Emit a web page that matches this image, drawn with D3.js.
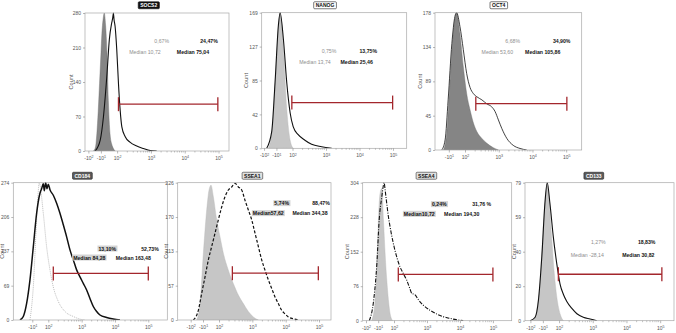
<!DOCTYPE html>
<html>
<head>
<title>Flow cytometry histograms</title>
<style>
  body { margin: 0; background: #fff; }
  text { font-family: "Liberation Sans", Arial, sans-serif; }
  .tick text { font-size: 5px; fill: #555; }
  .tick line { stroke: #888; stroke-width: 0.6; }
</style>
</head>
<body>
<script src="https://cdnjs.cloudflare.com/ajax/libs/d3/7.8.5/d3.min.js"></script>
<script>
// ---- data ----
var markers = ["SOCS2", "NANOG", "OCT4", "CD184", "SSEA1", "SSEA4", "CD133"];
var countMax = [280, 169, 178, 274, 226, 304, 79];
var isoPercent = ["0,67%", "0,75%", "6,68%", "13,10%", "5,74%", "0,24%", "1,27%"];
var isoMedian = ["Median 10,72", "Median 13,74", "Median 53,60", "Median 84,28", "Median57,62", "Median10,72", "Median -28,14"];
var stainPercent = ["24,47%", "13,75%", "34,90%", "52,73%", "88,47%", "31,76 %", "18,83%"];
var stainMedian = ["Median 75,04", "Median 25,46", "Median 105,86", "Median 163,48", "Median 344,38", "Median 194,30", "Median 30,82"];

// gate: start / end on the biexponential display (decades), bar level in counts
var gateRange = [[2.04, 4.98], [1.98, 4.99], [2.32, 5.02], [2.15, 5.0], [2.4, 4.98], [2.13, 5.0], [1.98, 5.05]];
var gateLevel = [95, 57, 60, 93, 77, 102, 26.6];

var tickValues = [-100, -10, 100, 1000, 10000, 100000];
var tickLabels = ["-10^2", "-10^1", "10^2", "10^3", "10^4", "10^5"];

// histograms: [display position (decades), count]
var socs2Iso = [[1.30,0],[1.36,8],[1.40,35],[1.44,80],[1.48,137],[1.52,195],[1.55,239],[1.59,270],[1.62,280],[1.66,255],[1.70,200],[1.74,103],[1.79,35],[1.84,14],[1.87,8],[1.94,0]];
var socs2Stain = [[1.35,0],[1.50,22],[1.595,69],[1.695,151],[1.77,226],[1.84,260],[1.87,270],[1.89,280],[1.91,266],[1.94,253],[1.99,205],[2.04,137],[2.09,83],[2.14,49],[2.24,29],[2.38,18],[2.58,10],[2.78,5],[2.98,1],[3.17,0]];
var nanogIso = [[1.28,0],[1.38,19],[1.48,81],[1.58,151],[1.63,169],[1.73,122],[1.83,48],[1.93,10],[2.02,0]];
var nanogStain = [[1.23,0],[1.38,21],[1.48,83],[1.58,154],[1.63,169],[1.73,135],[1.83,81],[1.93,44],[2.02,27],[2.17,17],[2.37,10],[2.57,5],[2.87,2],[3.17,0]];
var oct4Iso = [[1.36,0],[1.46,22],[1.55,86],[1.65,151],[1.75,177],[1.85,151],[1.95,108],[2.05,73],[2.15,52],[2.25,35],[2.35,24],[2.50,15],[2.64,9],[2.84,3],[2.99,0]];
var oct4Stain = [[1.31,0],[1.41,13],[1.50,65],[1.61,138],[1.70,173],[1.75,178],[1.85,160],[1.95,130],[2.05,99],[2.15,81],[2.25,73],[2.35,69],[2.50,65],[2.64,60],[2.79,56],[2.89,50],[2.99,39],[3.09,28],[3.24,15],[3.43,6],[3.63,2],[3.83,0]];
var cd184Iso = [[1.45,0],[1.55,66],[1.65,200],[1.73,273],[1.85,213],[1.95,146],[2.05,100],[2.15,66],[2.30,37],[2.50,17],[2.75,7],[3.00,1],[3.10,0]];
var cd184Stain = [[1.15,0],[1.25,7],[1.35,33],[1.45,80],[1.55,146],[1.65,213],[1.75,253],[1.80,262],[1.85,272],[1.88,258],[1.92,274],[1.96,262],[2.00,271],[2.05,260],[2.15,249],[2.25,233],[2.35,213],[2.45,190],[2.55,166],[2.65,140],[2.75,120],[2.85,100],[2.95,86],[3.05,73],[3.15,60],[3.25,43],[3.35,27],[3.45,17],[3.55,10],[3.75,5],[3.95,2],[4.15,0]];
var ssea1Iso = [[1.33,0],[1.43,27],[1.53,110],[1.63,181],[1.70,214],[1.76,222],[1.83,203],[1.93,165],[2.03,137],[2.13,110],[2.28,82],[2.43,60],[2.58,41],[2.73,27],[2.88,14],[3.03,5],[3.18,0]];
var ssea1Stain = [[1.23,0],[1.38,16],[1.48,44],[1.58,71],[1.68,99],[1.78,121],[1.88,143],[1.98,165],[2.08,186],[2.18,203],[2.28,214],[2.38,219],[2.48,225],[2.58,219],[2.68,214],[2.78,197],[2.88,181],[2.98,165],[3.08,143],[3.18,121],[3.28,99],[3.38,82],[3.48,66],[3.58,52],[3.68,38],[3.78,27],[3.88,16],[3.98,10],[4.08,5],[4.23,2],[4.38,0]];
var ssea4Iso = [[1.32,0],[1.42,38],[1.49,148],[1.55,258],[1.60,288],[1.63,291],[1.68,222],[1.73,148],[1.78,90],[1.83,46],[1.88,16],[1.96,0]];
var ssea4Stain = [[1.25,0],[1.37,38],[1.48,126],[1.55,222],[1.63,273],[1.68,299],[1.70,304],[1.73,288],[1.78,258],[1.83,229],[1.88,207],[1.98,170],[2.08,141],[2.18,119],[2.28,104],[2.38,90],[2.48,71],[2.54,60],[2.58,59],[2.64,57],[2.74,46],[2.89,34],[3.09,23],[3.29,15],[3.49,9],[3.70,5],[3.90,2],[4.10,0]];
var cd133Iso = [[1.24,0],[1.34,6],[1.44,23],[1.53,52],[1.61,75],[1.65,79],[1.71,67],[1.78,48],[1.85,29],[1.93,14],[2.03,4],[2.13,0]];
var cd133Stain = [[1.14,0],[1.29,2],[1.39,12],[1.49,37],[1.58,67],[1.65,79],[1.73,67],[1.83,48],[1.93,33],[2.03,21],[2.13,15],[2.23,11],[2.38,7],[2.53,4],[2.72,2],[2.92,1],[3.12,0]];

var isoCurves = [socs2Iso, nanogIso, oct4Iso, cd184Iso, ssea1Iso, ssea4Iso, cd133Iso];
var stainCurves = [socs2Stain, nanogStain, oct4Stain, cd184Stain, ssea1Stain, ssea4Stain, cd133Stain];

// ---- layout ----
var layout = [
  {box: [85, 13, 229, 151],      dom: [1.05, 5.31], titleX: 148.7, countDx: 12, pct: [161.7, 209, 41],   med: [145, 193, 52],    iso: "dark",   title: "black"},
  {box: [261.7, 12.7, 406.7, 148.3], dom: [1.08, 5.41], titleX: 325, countDx: 14, pct: [329, 368.3, 51],   med: [315, 356.7, 61.7], iso: "light",  title: "white"},
  {box: [435, 12.7, 581.7, 150],  dom: [1.11, 5.46], titleX: 498.7, countDx: 13, pct: [512.7, 561.7, 41], med: [497.3, 542.7, 51.7], iso: "dark", title: "white"},
  {box: [13.3, 182.7, 167.3, 320], dom: [0.95, 5.57], titleX: 82.3, countDx: 9.5, pct: [107.3, 150, 248.7], med: [89.3, 133.3, 257.7], iso: "dotted", title: "grey", boxed: true, minTick: -10},
  {box: [177.7, 182.7, 331, 320], dom: [0.76, 5.36], titleX: 252.3, countDx: 10, pct: [281.7, 321, 203.3], med: [268.3, 310, 213.3], iso: "light", title: "light", boxed: true},
  {box: [362.7, 182.7, 511.7, 320.7], dom: [1.05, 5.57], titleX: 426.3, countDx: 14, pct: [439.3, 481.7, 204.3], med: [419.3, 461.7, 214], iso: "light", title: "light", boxed: true},
  {box: [525, 182.7, 674, 320.7], dom: [0.99, 5.41], titleX: 593.7, countDx: 9, pct: [598.3, 646.7, 242], med: [587.3, 638.3, 255], iso: "light", title: "grey"}
];
var stainDash = [null, null, null, null, "3,1.8", "4,1.4,1,1.4", null];
var stainWidth = [1.1, 1.1, 0.8, 1.5, 1.2, 1.1, 1.1];

// biexponential-like display: log above 100, compressed linear around zero
var lowPart = d3.scaleLinear().domain([-100, -10, 100]).range([1.15, 1.52, 2]);
function biex(v) { return v >= 100 ? Math.log10(v) : lowPart(v); }

var svg = d3.select("body").append("svg")
  .attr("width", 676)
  .attr("height", 333);

markers.forEach(function(name, i) {
  var L = layout[i], b = L.box;
  var x = d3.scaleLinear().domain(L.dom).range([b[0], b[2]]);
  var y = d3.scaleLinear().domain([0, countMax[i]]).range([b[3], b[1]]);
  var g = svg.append("g");

  g.append("clipPath").attr("id", "clip" + i)
    .append("rect").attr("x", b[0]).attr("y", b[1] - 1).attr("width", b[2] - b[0]).attr("height", b[3] - b[1] + 1);
  var plot = g.append("g").attr("clip-path", "url(#clip" + i + ")");

  var area = d3.area().curve(d3.curveMonotoneX)
    .x(function(d) { return x(d[0]); })
    .y0(y(0))
    .y1(function(d) { return y(d[1]); });
  var line = d3.line().curve(d3.curveMonotoneX)
    .x(function(d) { return x(d[0]); })
    .y(function(d) { return y(d[1]); });

  if (L.iso === "dotted") {
    plot.append("path").attr("d", line(isoCurves[i]))
      .attr("fill", "none").attr("stroke", "#b5b5b5").attr("stroke-width", 0.9).attr("stroke-dasharray", "1,1");
  } else {
    plot.append("path").attr("d", area(isoCurves[i]))
      .attr("fill", L.iso === "dark" ? "#858585" : "#c6c6c6")
      .attr("stroke", L.iso === "dark" ? "#6a6a6a" : "#b8b8b8").attr("stroke-width", 0.4);
  }
  plot.append("path").attr("d", line(stainCurves[i]))
    .attr("fill", "none").attr("stroke", "#111")
    .attr("stroke-width", stainWidth[i])
    .attr("stroke-dasharray", stainDash[i]);

  // frame
  g.append("rect").attr("x", b[0]).attr("y", b[1]).attr("width", b[2] - b[0]).attr("height", b[3] - b[1])
    .attr("fill", "none").attr("stroke", "#a8a8a8").attr("stroke-width", 0.7);

  // axes
  var yAxis = d3.axisLeft(y)
    .tickValues(d3.range(5).map(function(k) { return countMax[i] * k / 4; }))
    .tickFormat(function(d) { return Math.round(d); })
    .tickSize(2).tickPadding(2);
  g.append("g").attr("transform", "translate(" + b[0] + ",0)").call(yAxis)
    .call(function(s) { s.select(".domain").remove(); });

  var ticks = tickValues.filter(function(v) {
    return biex(v) > L.dom[0] + 0.05 && (L.minTick === undefined || v >= L.minTick);
  });
  var xAxis = d3.axisBottom(x)
    .tickValues(ticks.map(biex))
    .tickFormat(function(d, j) { return tickLabels[tickValues.indexOf(ticks[j])]; })
    .tickSize(2.5).tickPadding(3);
  g.append("g").attr("transform", "translate(0," + b[3] + ")").call(xAxis)
    .call(function(s) {
      s.select(".domain").remove();
      s.selectAll(".tick text").each(function() {
        var parts = d3.select(this).text().split("^");
        var t = d3.select(this).text(parts[0]);
        t.append("tspan").attr("dy", "-0.45em").style("font-size", "3.6px").text(parts[1]);
      });
    });

  var minor = [];
  [100, 1000, 10000].forEach(function(p) { for (var k = 2; k < 10; k++) minor.push(k * p); });
  g.selectAll(".minor").data(minor).enter().append("line")
    .attr("x1", function(d) { return x(biex(d)); })
    .attr("x2", function(d) { return x(biex(d)); })
    .attr("y1", b[3]).attr("y2", b[3] + 1.5)
    .attr("stroke", "#888").attr("stroke-width", 0.5);

  g.append("text")
    .attr("transform", "translate(" + (b[0] - L.countDx) + "," + ((b[1] + b[3]) / 2) + ") rotate(-90)")
    .attr("text-anchor", "middle")
    .style("font-size", "5.6px").style("fill", "#555")
    .text("Count");

  // gate
  var gy = y(gateLevel[i]), gx0 = x(gateRange[i][0]), gx1 = x(gateRange[i][1]);
  var gate = g.append("g").attr("stroke", "#a3262c").attr("stroke-width", 1.3);
  gate.append("line").attr("x1", gx0).attr("x2", gx1).attr("y1", gy).attr("y2", gy);
  [gx0, gx1].forEach(function(gx) {
    gate.append("line").attr("x1", gx).attr("x2", gx).attr("y1", gy - 7).attr("y2", gy + 7);
  });

  // statistics
  function stat(str, cx, cy, isIso) {
    var t = g.append("text").attr("x", cx).attr("y", cy)
      .attr("text-anchor", "middle").attr("dy", "0.35em")
      .style("font-size", "5.2px")
      .style("font-weight", (isIso && !L.boxed) ? "normal" : "bold")
      .style("fill", (isIso && !L.boxed) ? "#8f8f8f" : "#111")
      .text(str);
    if (isIso && L.boxed) {
      var bb = t.node().getBBox();
      g.insert("rect", function() { return t.node(); })
        .attr("x", bb.x - 1).attr("y", bb.y).attr("width", bb.width + 2).attr("height", bb.height)
        .attr("fill", "#d4d4d4");
    }
  }
  stat(isoPercent[i], L.pct[0], L.pct[2], true);
  stat(stainPercent[i], L.pct[1], L.pct[2], false);
  stat(isoMedian[i], L.med[0], L.med[2], true);
  stat(stainMedian[i], L.med[1], L.med[2], false);

  // title tag
  var tStyle = {
    black: ["#111", "#111", "#fff"],
    white: ["#fff", "#222", "#111"],
    grey: ["#5a5a5a", "#222", "#fff"],
    light: ["#e0e0e0", "#333", "#111"]
  }[L.title];
  var tt = g.append("text").attr("x", L.titleX).attr("y", 5.5 + (i > 2 ? 170.5 : 0))
    .attr("text-anchor", "middle").attr("dy", "0.35em")
    .style("font-size", "5px").style("font-weight", "bold").style("fill", tStyle[2])
    .text(name);
  var tb = tt.node().getBBox();
  g.insert("rect", function() { return tt.node(); })
    .attr("x", tb.x - 2).attr("y", tb.y - 0.5).attr("width", tb.width + 4).attr("height", tb.height + 1)
    .attr("rx", 1)
    .attr("fill", tStyle[0]).attr("stroke", tStyle[1]).attr("stroke-width", 0.6);
});
</script>
</body>
</html>
